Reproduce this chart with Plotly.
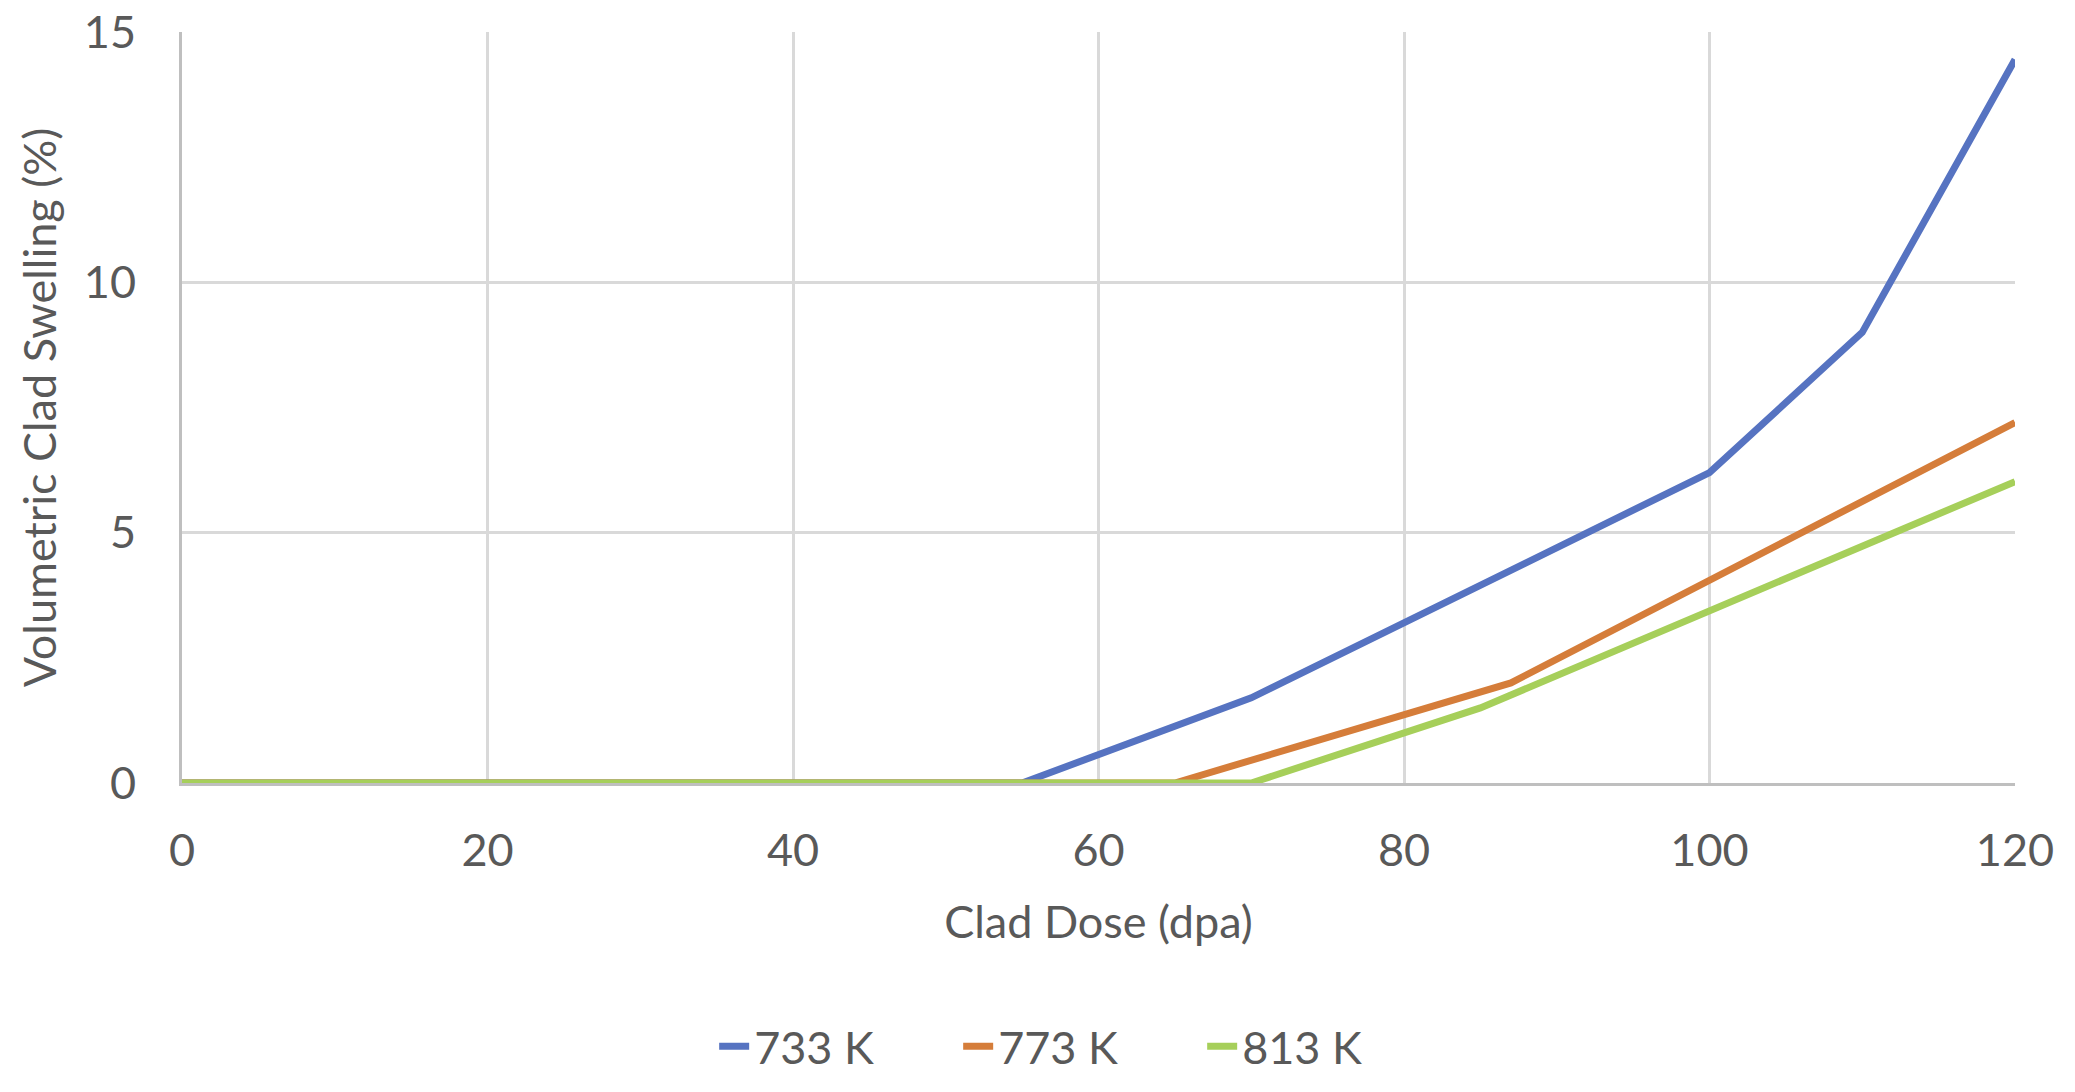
import plotly.graph_objects as go

# Data
dose_733 = [0, 55, 70, 100, 110, 120]
swell_733 = [0, 0, 1.7, 6.2, 9.0, 14.45]

dose_773 = [0, 65, 87, 100, 120]
swell_773 = [0, 0, 2.0, 4.05, 7.2]

dose_813 = [0, 70, 85, 100, 120]
swell_813 = [0, 0, 1.5, 3.45, 6.02]

series_names = ["733 K", "773 K", "813 K"]
colors = ["#5673C1", "#D57D3A", "#A6CF5A"]

x_ticks = [0, 20, 40, 60, 80, 100, 120]
y_ticks = [0, 5, 10, 15]

FONT = "Lato"
TXT = "#595959"
FS = 45

fig = go.Figure()
for xs, ys, name, col in zip(
    [dose_733, dose_773, dose_813],
    [swell_733, swell_773, swell_813],
    series_names, colors,
):
    fig.add_trace(go.Scatter(x=xs, y=ys, mode="lines", name=name,
                             line=dict(color=col, width=7)))

fig.update_layout(
    width=2075, height=1092,
    margin=dict(l=182, r=60, t=32, b=309, autoexpand=False),
    paper_bgcolor="white", plot_bgcolor="white",
    font=dict(family=FONT, size=FS, color=TXT),
    showlegend=True,
    legend=dict(orientation="h", x=0.49, xanchor="center", y=-0.351, yanchor="middle",
                font=dict(family=FONT, size=FS, color=TXT),
                itemwidth=30, entrywidth=199, entrywidthmode="pixels",
                tracegroupgap=0, bgcolor="rgba(0,0,0,0)"),
)

fig.update_xaxes(
    range=[0, 120], tickvals=x_ticks, ticktext=[str(v) for v in x_ticks],
    showgrid=True, gridcolor="#D9D9D9", gridwidth=3,
    showline=True, linecolor="#BFBFBF", linewidth=3,
    zeroline=False, ticks="", ticklabelstandoff=26, automargin=False,
    tickfont=dict(family=FONT, size=FS, color=TXT),
    title=dict(text="Clad Dose (dpa)", font=dict(family=FONT, size=FS, color=TXT), standoff=32),
    mirror=False,
)
fig.update_yaxes(
    range=[0, 15], tickvals=y_ticks, ticktext=[str(v) for v in y_ticks],
    showgrid=True, gridcolor="#D9D9D9", gridwidth=3,
    showline=True, linecolor="#BFBFBF", linewidth=3,
    zeroline=False, ticks="", ticklabelstandoff=34, automargin=False,
    tickfont=dict(family=FONT, size=FS, color=TXT),
    title=dict(text="Volumetric Clad Swelling (%)", font=dict(family=FONT, size=FS, color=TXT), standoff=14),
)

fig.write_html("out.html")
